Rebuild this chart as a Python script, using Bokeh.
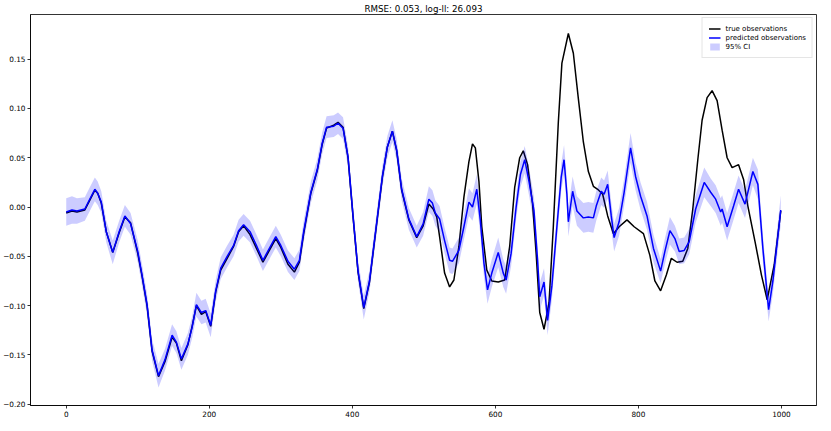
from bokeh.plotting import figure
from bokeh.models import Range1d, FixedTicker, Legend, LegendItem, ColumnDataSource
from bokeh.embed import file_html
from bokeh.resources import INLINE

title_text = "RMSE: 0.053, log-ll: 26.093"
x_ticks = [0, 200, 400, 600, 800, 1000]
y_ticks = [-0.20, -0.15, -0.10, -0.05, 0.00, 0.05, 0.10, 0.15]

pred_t = [0, 8, 15, 26, 33, 40, 44, 49, 56, 65,
          74, 82, 90, 100, 106, 113, 120, 129, 138, 148,
          154, 161, 170, 176, 182, 189, 195, 202, 209, 216,
          225, 234, 241, 248, 257, 266, 275, 284, 293, 300,
          310, 319, 326, 332, 342, 351, 358, 364, 374, 380,
          387, 394, 401, 408, 416, 424, 433, 442, 449, 456,
          462, 469, 479, 490, 499, 507, 512, 516, 522, 529,
          536, 540, 549, 556, 563, 568, 574, 579, 584, 589,
          595, 604, 611, 615, 622, 629, 635, 641, 647, 654,
          659, 662, 668, 673, 679, 686, 692, 696, 700, 702,
          708, 714, 723, 730, 737, 741, 748, 752, 757, 762,
          766, 773, 780, 789, 796, 803, 812, 821, 831, 837,
          844, 851, 857, 864, 871, 880, 892, 901, 908, 915,
          917, 924, 933, 940, 949, 960, 967, 974, 982, 988,
          999]
pred_v = [-0.005, -0.003, -0.004, -0.002, 0.008, 0.018, 0.014, 0.005, -0.025, -0.046,
          -0.025, -0.009, -0.017, -0.045, -0.069, -0.099, -0.145, -0.171, -0.155, -0.130,
          -0.137, -0.154, -0.139, -0.122, -0.099, -0.107, -0.105, -0.120, -0.085, -0.062,
          -0.050, -0.039, -0.024, -0.018, -0.025, -0.039, -0.054, -0.042, -0.030, -0.039,
          -0.055, -0.063, -0.054, -0.025, 0.015, 0.038, 0.065, 0.081, 0.082, 0.085,
          0.080, 0.051, -0.009, -0.065, -0.102, -0.075, -0.022, 0.031, 0.061, 0.077,
          0.058, 0.018, -0.012, -0.030, -0.017, 0.008, 0.004, -0.006, -0.012, -0.034,
          -0.054, -0.055, -0.044, -0.020, 0.005, 0.000, 0.018, -0.014, -0.057, -0.084,
          -0.067, -0.046, -0.067, -0.074, -0.047, 0.000, 0.033, 0.048, 0.026, -0.004,
          -0.054, -0.091, -0.076, -0.115, -0.080, -0.020, 0.030, 0.048, 0.013, -0.015,
          0.016, -0.004, -0.011, -0.010, -0.011, 0.001, 0.016, 0.013, 0.023, -0.009,
          -0.031, -0.015, 0.015, 0.060, 0.031, 0.011, -0.009, -0.042, -0.065, -0.045,
          -0.024, -0.032, -0.045, -0.044, -0.035, -0.002, 0.025, 0.015, 0.008, -0.005,
          -0.002, -0.020, 0.001, 0.018, 0.003, 0.036, 0.023, -0.042, -0.104, -0.075,
          -0.003]
ci_halfwidth = [0.014, 0.014, 0.013, 0.012, 0.012, 0.012, 0.012, 0.011, 0.011, 0.012,
                0.011, 0.011, 0.011, 0.011, 0.011, 0.011, 0.011, 0.012, 0.011, 0.011,
                0.011, 0.011, 0.011, 0.011, 0.012, 0.012, 0.012, 0.012, 0.011, 0.011,
                0.011, 0.011, 0.011, 0.011, 0.011, 0.011, 0.011, 0.011, 0.011, 0.011,
                0.011, 0.011, 0.011, 0.011, 0.011, 0.011, 0.011, 0.011, 0.011, 0.011,
                0.011, 0.011, 0.011, 0.011, 0.012, 0.011, 0.011, 0.011, 0.011, 0.011,
                0.011, 0.011, 0.011, 0.011, 0.012, 0.013, 0.013, 0.013, 0.013, 0.013,
                0.013, 0.013, 0.013, 0.013, 0.014, 0.014, 0.015, 0.014, 0.014, 0.014,
                0.014, 0.015, 0.014, 0.014, 0.013, 0.013, 0.013, 0.014, 0.014, 0.014,
                0.014, 0.014, 0.014, 0.015, 0.014, 0.014, 0.014, 0.015, 0.015, 0.015,
                0.015, 0.015, 0.015, 0.015, 0.015, 0.015, 0.014, 0.014, 0.014, 0.014,
                0.014, 0.014, 0.014, 0.015, 0.014, 0.014, 0.014, 0.014, 0.012, 0.013,
                0.014, 0.013, 0.013, 0.013, 0.013, 0.014, 0.015, 0.014, 0.014, 0.014,
                0.014, 0.014, 0.014, 0.014, 0.014, 0.014, 0.015, 0.014, 0.012, 0.013,
                0.015]

true_t = [0, 8, 15, 26, 33, 40, 44, 49, 56, 65,
          74, 82, 90, 100, 106, 113, 120, 129, 138, 148,
          154, 161, 170, 176, 182, 189, 195, 202, 209, 216,
          225, 234, 241, 248, 257, 266, 275, 284, 293, 300,
          310, 319, 326, 332, 342, 351, 358, 364, 374, 380,
          387, 394, 401, 408, 416, 424, 433, 442, 449, 456,
          462, 469, 479, 490, 499,
          507, 513, 518, 522, 529, 536, 542, 549, 556, 563,
          568, 572, 577, 581, 588, 595, 604, 613, 620, 627,
          634, 639, 645, 652, 657, 662, 668, 675, 681, 688,
          693, 702, 709, 716, 723, 730, 737, 743, 750, 757,
          765, 773, 784, 794, 807, 816, 823, 831, 839, 846,
          854, 862, 869, 876, 883, 889, 896, 903, 910, 917,
          924, 931, 940, 947, 953, 963, 972, 980, 990, 999]
true_v = [-0.006, -0.004, -0.005, -0.003, 0.007, 0.017, 0.014, 0.004, -0.025, -0.046,
          -0.026, -0.010, -0.016, -0.047, -0.070, -0.100, -0.146, -0.172, -0.157, -0.132,
          -0.138, -0.156, -0.140, -0.121, -0.100, -0.109, -0.106, -0.121, -0.086, -0.064,
          -0.052, -0.040, -0.025, -0.019, -0.028, -0.042, -0.056, -0.044, -0.032, -0.041,
          -0.058, -0.066, -0.056, -0.027, 0.014, 0.037, 0.064, 0.080, 0.083, 0.086,
          0.081, 0.050, -0.010, -0.066, -0.103, -0.076, -0.023, 0.030, 0.061, 0.077,
          0.057, 0.017, -0.013, -0.031, -0.019,
          0.003, -0.002, -0.010, -0.030, -0.067, -0.081, -0.074, -0.040, 0.010, 0.046,
          0.064, 0.060, 0.026, -0.020, -0.064, -0.075, -0.076, -0.074, -0.040, 0.020,
          0.050, 0.057, 0.043, 0.003, -0.047, -0.107, -0.124, -0.097, -0.020, 0.086,
          0.146, 0.176, 0.156, 0.110, 0.066, 0.036, 0.021, 0.018, 0.013, -0.009,
          -0.027, -0.020, -0.013, -0.020, -0.027, -0.049, -0.075, -0.085, -0.069, -0.052,
          -0.056, -0.055, -0.042, -0.002, 0.048, 0.088, 0.111, 0.118, 0.108, 0.078,
          0.050, 0.040, 0.043, 0.028, 0.001, -0.035, -0.069, -0.094, -0.058, -0.004]

ci_lower = [v - h for v, h in zip(pred_v, ci_halfwidth)]
ci_upper = [v + h for v, h in zip(pred_v, ci_halfwidth)]

FONT = "DejaVu Sans"

p = figure(frame_width=786, frame_height=391, output_backend="svg", toolbar_location=None,
           x_range=Range1d(-49.95, 1048.95), y_range=Range1d(-0.2013, 0.1953),
           title=title_text)
p.title.text_font = FONT
p.title.text_font_size = "8.7px"
p.title.text_font_style = "normal"
p.title.align = "center"
p.title.standoff = 2
p.title.text_color = "black"

p.min_border_left = 27
p.min_border_right = 2
p.min_border_top = 11
p.min_border_bottom = 13

p.xgrid.visible = False
p.ygrid.visible = False
p.outline_line_color = "black"
p.outline_line_width = 0.8
p.outline_line_alpha = 1.0
p.background_fill_color = "white"
p.border_fill_color = "white"

for ax in (p.xaxis[0], p.yaxis[0]):
    ax.axis_line_color = "black"
    ax.axis_line_width = 0.8
    ax.major_tick_line_color = "black"
    ax.major_tick_line_width = 0.8
    ax.major_tick_out = 3
    ax.major_tick_in = 0
    ax.minor_tick_line_color = None
    ax.major_label_text_font = FONT
    ax.major_label_text_font_size = "7.3px"
    ax.major_label_text_color = "black"
    ax.major_label_standoff = 2

p.xaxis[0].ticker = FixedTicker(ticks=x_ticks)
p.xaxis[0].major_label_overrides = {t: str(t) for t in x_ticks}
p.yaxis[0].ticker = FixedTicker(ticks=y_ticks)
p.yaxis[0].major_label_overrides = {t: ("%.2f" % t).replace("-", "\u2212") for t in y_ticks}

true_src = ColumnDataSource(dict(t=true_t, v=true_v))
pred_src = ColumnDataSource(dict(t=pred_t, v=pred_v, lo=ci_lower, hi=ci_upper))

r_true = p.line("t", "v", source=true_src, line_color="black", line_width=1.5)
r_pred = p.line("t", "v", source=pred_src, line_color="#0000ff", line_width=1.5)
r_ci = p.varea(x="t", y1="lo", y2="hi", source=pred_src, fill_color="#0000ff", fill_alpha=0.2)

legend = Legend(items=[
    LegendItem(label="true observations", renderers=[r_true]),
    LegendItem(label="predicted observations", renderers=[r_pred]),
    LegendItem(label="95% CI", renderers=[r_ci]),
], location="top_right")
legend.label_text_font = FONT
legend.label_text_font_size = "7px"
legend.label_text_color = "black"
legend.glyph_height = 9
legend.glyph_width = 12
legend.label_height = 9
legend.label_standoff = 5
legend.spacing = 0
legend.padding = 6
legend.margin = 3
legend.border_line_color = "#cccccc"
legend.border_line_width = 0.8
legend.background_fill_alpha = 0.8
p.add_layout(legend)

open("out.html", "w").write(file_html(p, INLINE))
